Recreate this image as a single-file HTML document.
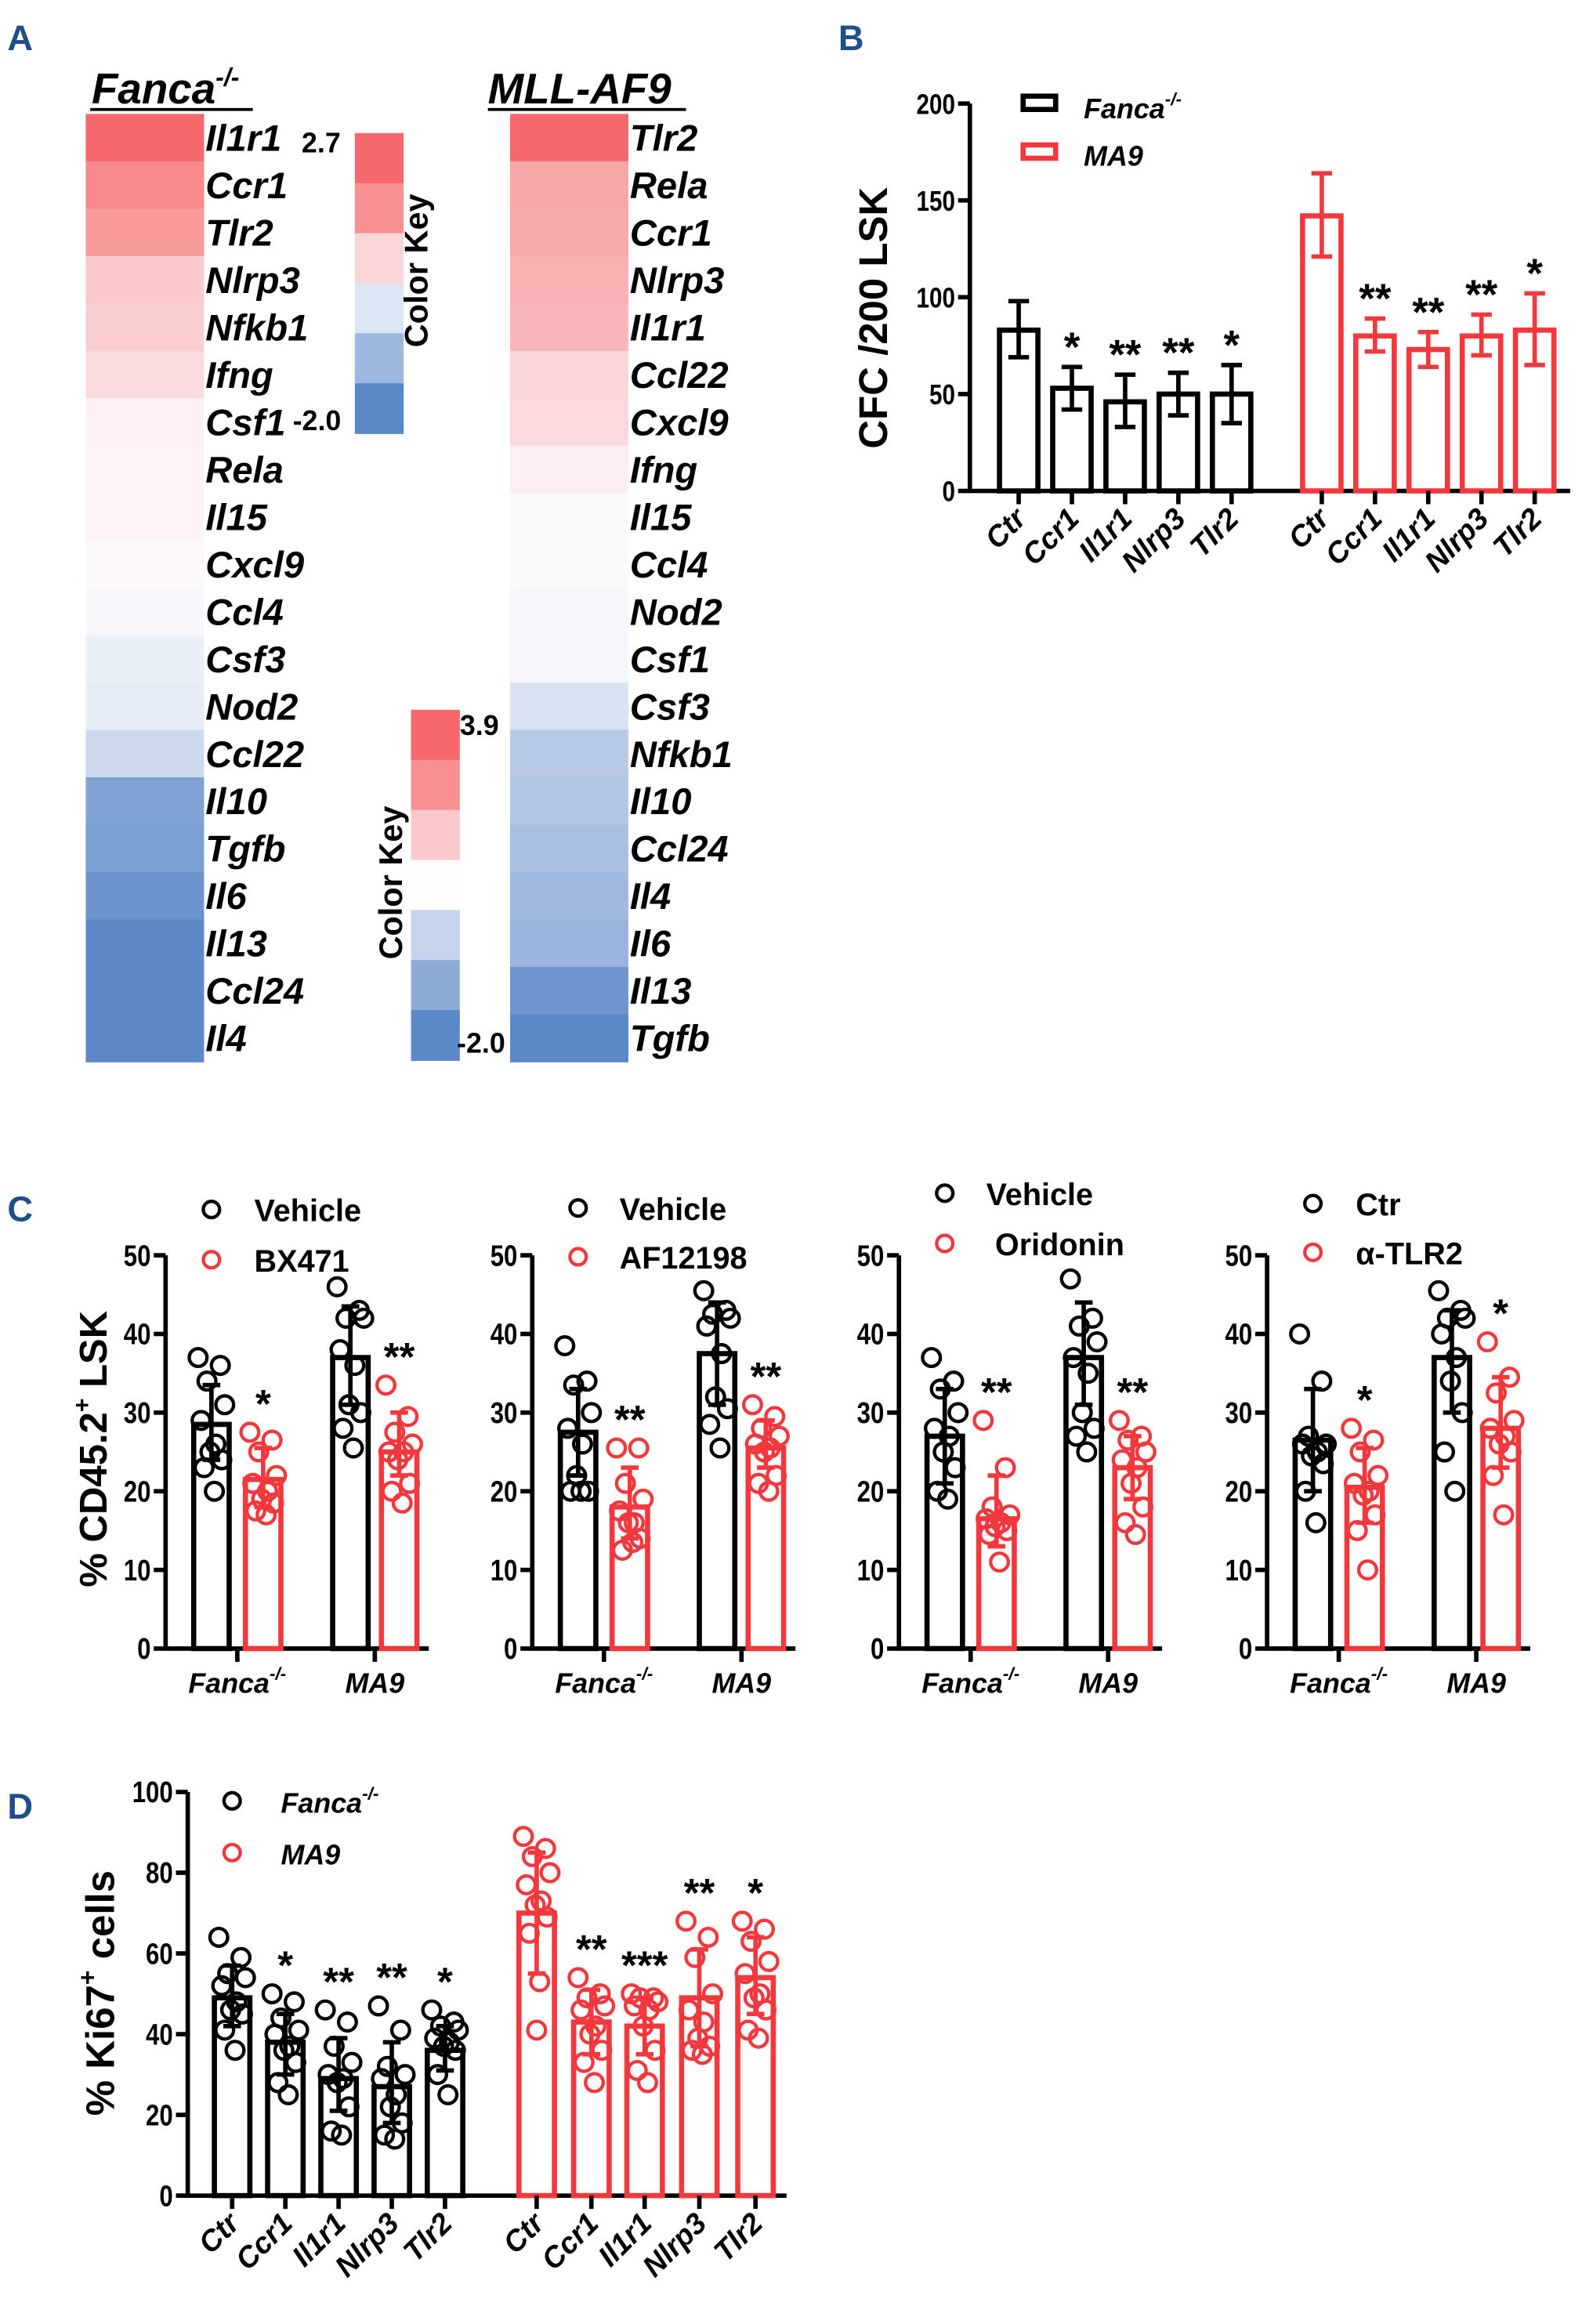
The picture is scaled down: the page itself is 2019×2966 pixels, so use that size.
<!DOCTYPE html>
<html><head><meta charset="utf-8"><style>
html,body{margin:0;padding:0;background:#fff}
svg{display:block}
text{font-family:"Liberation Sans",sans-serif;font-weight:bold}
</style></head><body>
<svg id="fig" width="2019" height="2966" viewBox="0 0 1070 1571.8" xmlns="http://www.w3.org/2000/svg">
<g id="pa"></g>
<g id="pb"></g>
<g id="pc"></g>
<g id="pd"></g>
</svg>
<script>
// ---------- Panel A data ----------
const fancaGenes = ["Il1r1","Ccr1","Tlr2","Nlrp3","Nfkb1","Ifng","Csf1","Rela","Il15","Cxcl9","Ccl4","Csf3","Nod2","Ccl22","Il10","Tgfb","Il6","Il13","Ccl24","Il4"];
const fancaColors = ["#f6686b","#f78a8c","#f8999a","#fbc9cc","#fbcfd2","#fadcdf","#fdf0f2","#fdf2f4","#fdf3f5","#fcf8fb","#f8f8fc","#eaf0f8","#e6edf7","#cdd9ec","#7fa3d3","#7a9fd1","#6c94cc","#5d89c6","#5d89c6","#5d89c6"];
const mllGenes = ["Tlr2","Rela","Ccr1","Nlrp3","Il1r1","Ccl22","Cxcl9","Ifng","Il15","Ccl4","Nod2","Csf1","Csf3","Nfkb1","Il10","Ccl24","Il4","Il6","Il13","Tgfb"];
const mllColors = ["#f6686b","#f8a7a9","#f8a9ab","#f9b2b4","#f9b6b8","#fbd6d9","#fbd9dc","#fdeff1","#fafafc","#f9f9fc","#f6f7fb","#f5f6fb","#d8e2f1","#b7c9e6","#b3c6e5","#a8bfe1","#a1b9df","#9ab4dd","#6e95cd","#5b88c6"];
const key1Colors = ["#f6686b","#f88f91","#fbd4d8","#dce5f3","#9db8de","#5b88c6"];
const key2Colors = ["#f6686b","#f88f91","#fbc9cc","#fdfdfe","#c5d4ec","#8eabd8","#5b88c6"];

// ---------- Panel B data ----------
const bCats = ["Ctr","Ccr1","Il1r1","Nlrp3","Tlr2"];
const bFanca = [83,53,46,50,50];
const bFancaHi = [98,64,60,61,65];
const bFancaLo = [69,42,33,39,35];
const bFancaStars = ["","*","**","**","*"];
const bMA9 = [142,80,73,80,83];
const bMA9Hi = [164,89,82,91,102];
const bMA9Lo = [121,72,64,70,65];
const bMA9Stars = ["","**","**","**","*"];
const bTicks = [0,50,100,150,200];

// ---------- Panel C data ----------
const cTreat = ["BX471","AF12198","Oridonin","α-TLR2"];
const cCtrlName = ["Vehicle","Vehicle","Vehicle","Ctr"];
const cTicks = [0,10,20,30,40,50];
const cMeans = [[28.5,21.5,37,25],[27.5,18,37.5,25.5],[27,16.5,37,23],[26.5,20.5,37,28]];
const cHi = [[33.5,25.5,43.5,30],[33,23,44,29],[33,22,44,27],[33,25.5,43,34.5]];
const cLo = [[24,18,31,22],[22,14,31,23],[21,13,31,19],[20,16,30,23]];
const cStars = [["","*","","**"],["","**","","**"],["","**","","**"],["","*","","*"]];
const cPts = [
 [[37,36,34,31,29,26,25,24,23,20],[27.5,26.5,25,22,21,20,19,18.5,17.5,17],[46,43,42,42,38,36,31,30,28,25.5],[33.5,29.5,27.5,26,25,25,24,21,20,18.5]],
 [[38.5,34,33.5,30,28,26,22,20,20,20],[25.5,25.5,21,19,17.5,16,16,14,12.5,13.5],[45.5,43,42.5,42,41,37.5,32,30.5,28.5,25.5],[31,29.5,28,27,26,25.5,25,22,21,20]],
 [[37,34,33,30,28,27,25,23,20,19],[29,23,18,17,16.5,16,15.5,15,14.5,11],[47,42,41,39,37,35,30,28,27,25],[29,27,26.5,25,24,23,21,18,16,14.5]],
 [[40,34,27,26,26,25,24.5,23.5,20,16],[28,26.5,25,22,21,20,19.5,17,15,10],[45.5,43,42,42,40,37,34,30,25,20],[39,34.5,32.5,29,28,27,26,25,22,17]]
];

// ---------- Panel D data ----------
const dCats = ["Ctr","Ccr1","Il1r1","Nlrp3","Tlr2"];
const dTicks = [0,20,40,60,80,100];
const dFanca = [49,38,29,27,36];
const dFancaHi = [57,45,39,38,42];
const dFancaLo = [42,30,21,18,31];
const dFancaStars = ["","*","**","**","*"];
const dMA9 = [70,43,42,49,54];
const dMA9Hi = [85,51,49,61,64];
const dMA9Lo = [55,35,35,37,45];
const dMA9Stars = ["","**","***","**","*"];
const dFancaPts = [[64,59,55,54,52,48,46,45,41,36],[50,48,44,41,40,37,36,33,28,25],[46,43,37,33,30,29,28,22,16,15],[47,41,32,30,29,25,22,18,15,14],[46,43,42,41,39,38,37,36,30,25]];
const dMA9Pts = [[89,86,84,80,77,73,72,69,65,53,41],[54,50,49,47,46,42,40,36,33,28],[50,49,49,48,47,46,42,36,31,28],[68,64,59,50,46,43,39,37,36,35],[68,66,63,58,55,50,49,46,41,39]];

const NS="http://www.w3.org/2000/svg";
const BLK="#000", RED="#f2383c";
function mk(parent, tag, attrs, txt){
  const e=document.createElementNS(NS,tag);
  for(const k in attrs) e.setAttribute(k,attrs[k]);
  if(txt!==undefined) e.textContent=txt;
  parent.appendChild(e); return e;
}
const jit=[-9,6,-3,9,-7,3,-1,7,-5,2,0];

// ================= Panel A =================
(function(){
  const g=document.getElementById('pa');
  let t=mk(g,'text',{x:5,y:34,fill:'#1f4e8c','font-size':24},'A');
   
  function heat(x0,title,tx,genes,cols,name){
    const top=77,h=(718-77)/genes.length;
    const hg=mk(g,'g',{});
     
    const tt=mk(hg,'text',{x:tx,y:70,'font-size':29,'font-style':'italic'},title);
     
    genes.forEach((gn,i)=>{
      const r=mk(hg,'rect',{x:x0,y:top+i*h,width:80,height:h+0.5,fill:cols[i]});
       
      const l=mk(hg,'text',{x:x0+81,y:top+i*h+h/2+9,'font-size':25,'font-style':'italic'},gn);
       
    });
    return tt;
  }
  const t1=heat(58,'','62',fancaGenes,fancaColors,'fanca-heatmap');
  t1.innerHTML='Fanca<tspan font-size="17" dy="-12">-/-</tspan>';
  mk(g,'line',{x1:61,y1:74,x2:171,y2:74,stroke:'#000','stroke-width':2});
  heat(345,'MLL-AF9',330,mllGenes,mllColors,'mll-af9-heatmap');
  mk(g,'line',{x1:330,y1:74,x2:464,y2:74,stroke:'#000','stroke-width':2});
  function key(x,y0,y1,cols,hiT,loT,hx,hy,lx,ly,ckx,cky,name){
    const kg=mk(g,'g',{});
     
    const h=(y1-y0)/cols.length;
    cols.forEach((c,i)=>{const r=mk(kg,'rect',{x:x,y:y0+i*h,width:33,height:h+0.5,fill:c});
       });
    let a=mk(kg,'text',{x:hx,y:hy,'font-size':19},hiT);  
    a=mk(kg,'text',{x:lx,y:ly,'font-size':19},loT);  
    a=mk(kg,'text',{x:0,y:0,'font-size':22,'text-anchor':'middle',transform:`translate(${ckx},${cky}) rotate(-90)`},'Color Key');
     
  }
  key(240,90,293,key1Colors,'2.7','-2.0',204,103,198,291,289,183,'color-key-fanca');
  key(278,480,717,key2Colors,'3.9','-2.0',311,497,309,712,272,597,'color-key-mll');
})();

function tick(g,x,y,v,fs){
  const s=String(v);
  const l=mk(g,'text',{x:x,y:y,'font-size':fs,'text-anchor':'end',textLength:s.length*fs*0.46,lengthAdjust:'spacingAndGlyphs'},s);
   
  return l;
}

// ================= Panel B =================
(function(){
  const g=document.getElementById('pb');
  let t=mk(g,'text',{x:567,y:34,fill:'#1f4e8c','font-size':24},'B');
   
  const ax=656,y0=332,y1=70,vmax=200;
  const Y=v=>y0-(v/vmax)*(y0-y1);
  mk(g,'line',{x1:ax,y1:y1,x2:ax,y2:y0+1,stroke:BLK,'stroke-width':3});
  mk(g,'line',{x1:ax-1,y1:y0,x2:1062,y2:y0,stroke:BLK,'stroke-width':3});
  bTicks.forEach(v=>{
    mk(g,'line',{x1:ax-8,y1:Y(v),x2:ax,y2:Y(v),stroke:BLK,'stroke-width':3});
    tick(g,ax-10,Y(v)+7,v,19);
  });
  const yt=mk(g,'text',{x:0,y:0,'font-size':27,'text-anchor':'middle',transform:'translate(600,215) rotate(-90)'},'CFC /200 LSK');
   
  const X0=[689,725,761,797,833], X1=[894,930,966,1002,1038];
  function series(xs,vals,hi,lo,stars,col,nm){
    xs.forEach((x,i)=>{
      const b=mk(g,'rect',{x:x-13,y:Y(vals[i]),width:26,height:y0-Y(vals[i]),fill:'none',stroke:col,'stroke-width':3.5});
       
      mk(g,'line',{x1:x,y1:Y(hi[i]),x2:x,y2:Y(lo[i]),stroke:col,'stroke-width':3});
      mk(g,'line',{x1:x-7,y1:Y(hi[i]),x2:x+7,y2:Y(hi[i]),stroke:col,'stroke-width':3});
      mk(g,'line',{x1:x-7,y1:Y(lo[i]),x2:x+7,y2:Y(lo[i]),stroke:col,'stroke-width':3});
      mk(g,'line',{x1:x,y1:y0,x2:x,y2:y0+9,stroke:BLK,'stroke-width':3});
      if(stars[i]){const s=mk(g,'text',{x:x,y:Y(hi[i])-4,'font-size':28,'text-anchor':'middle'},stars[i]);
         }
      const l=mk(g,'text',{x:0,y:0,'font-size':20,'font-style':'italic','text-anchor':'end',transform:`translate(${x+6},${y0+20}) rotate(-45)`},bCats[i]);
       
    });
  }
  series(X0,bFanca,bFancaHi,bFancaLo,bFancaStars,BLK,'fanca');
  series(X1,bMA9,bMA9Hi,bMA9Lo,bMA9Stars,RED,'ma9');
  let r=mk(g,'rect',{x:692,y:65,width:22,height:9,fill:'none',stroke:BLK,'stroke-width':3.5}); 
  let l=mk(g,'text',{x:733,y:80,'font-size':19,'font-style':'italic'},''); l.innerHTML='Fanca<tspan font-size="12" dy="-9">-/-</tspan>';
   
  r=mk(g,'rect',{x:692,y:98,width:22,height:9,fill:'none',stroke:RED,'stroke-width':3.5}); 
  l=mk(g,'text',{x:733,y:112,'font-size':19,'font-style':'italic'},'MA9');
   
})();

// ================= Panel C =================
(function(){
  const g=document.getElementById('pc');
  let t=mk(g,'text',{x:5,y:826,fill:'#1f4e8c','font-size':24},'C');
   
  const yt=mk(g,'text',{x:0,y:0,'font-size':26,'text-anchor':'middle',transform:'translate(72,980) rotate(-90)'},'');
  yt.innerHTML='% CD45.2<tspan font-size="16" dy="-11">+</tspan><tspan dy="11"> LSK</tspan>';
   
  const axs=[112,360,608,857], legY=[[818,852],[817,850],[807,841],[814,847]], legTx=[172,419,667,917], legTx2=[172,419,673,917];
  const y0=1115,y1=849, Y=v=>y0-(v/50)*(y0-y1);
  for(let p=0;p<4;p++){
    const ax=axs[p];
    const sg=mk(g,'g',{});  
    mk(sg,'line',{x1:ax,y1:y1,x2:ax,y2:y0+1,stroke:BLK,'stroke-width':3});
    mk(sg,'line',{x1:ax-1,y1:y0,x2:ax+178,y2:y0,stroke:BLK,'stroke-width':3});
    cTicks.forEach(v=>{
      mk(sg,'line',{x1:ax-8,y1:Y(v),x2:ax,y2:Y(v),stroke:BLK,'stroke-width':3});
      tick(sg,ax-10,Y(v)+7,v,20);
    });
    const xs=[ax+31,ax+66,ax+125,ax+158];
    [0,1].forEach(k=>{
      const gx=(xs[2*k]+xs[2*k+1])/2;
      mk(sg,'line',{x1:gx,y1:y0,x2:gx,y2:y0+9,stroke:BLK,'stroke-width':3});
      const l=mk(sg,'text',{x:gx,y:y0+30,'font-size':19,'font-style':'italic','text-anchor':'middle'},'');
      l.innerHTML=k===0?'Fanca<tspan font-size="12" dy="-9">-/-</tspan>':'MA9';
       
    });
    for(let j=0;j<4;j++){
      const col=j%2?RED:BLK, x=xs[j], m=cMeans[p][j];
      const b=mk(sg,'rect',{x:x-12,y:Y(m),width:24,height:y0-Y(m),fill:'none',stroke:col,'stroke-width':3.5});
       
      cPts[p][j].forEach((v,i)=>{
        const c=mk(sg,'circle',{cx:x+jit[i],cy:Y(v),r:6,fill:'none',stroke:col,'stroke-width':2.3});
         
      });
      mk(sg,'line',{x1:x,y1:Y(cHi[p][j]),x2:x,y2:Y(cLo[p][j]),stroke:col,'stroke-width':3});
      mk(sg,'line',{x1:x-6,y1:Y(cHi[p][j]),x2:x+6,y2:Y(cHi[p][j]),stroke:col,'stroke-width':3});
      mk(sg,'line',{x1:x-6,y1:Y(cLo[p][j]),x2:x+6,y2:Y(cLo[p][j]),stroke:col,'stroke-width':3});
      if(cStars[p][j]){
        const top=Math.max(cHi[p][j],...cPts[p][j]);
        const s=mk(sg,'text',{x:x,y:Y(top)-10,'font-size':27,'text-anchor':'middle'},cStars[p][j]);
         
      }
    }
    let c=mk(sg,'circle',{cx:ax+31,cy:legY[p][0],r:5.5,fill:'none',stroke:BLK,'stroke-width':2.3}); 
    let l=mk(sg,'text',{x:legTx[p],y:legY[p][0]+8,'font-size':21},cCtrlName[p]);  
    c=mk(sg,'circle',{cx:ax+31,cy:legY[p][1],r:5.5,fill:'none',stroke:RED,'stroke-width':2.3}); 
    l=mk(sg,'text',{x:legTx2[p],y:legY[p][1]+8,'font-size':21},cTreat[p]);  
  }
})();

// ================= Panel D =================
(function(){
  const g=document.getElementById('pd');
  let t=mk(g,'text',{x:5,y:1230,fill:'#1f4e8c','font-size':24},'D');
   
  const ax=127,y0=1485,y1=1212,Y=v=>y0-(v/100)*(y0-y1);
  mk(g,'line',{x1:ax,y1:y1,x2:ax,y2:y0+1,stroke:BLK,'stroke-width':3});
  mk(g,'line',{x1:ax-1,y1:y0,x2:532,y2:y0,stroke:BLK,'stroke-width':3});
  dTicks.forEach(v=>{
    mk(g,'line',{x1:ax-8,y1:Y(v),x2:ax,y2:Y(v),stroke:BLK,'stroke-width':3});
    tick(g,ax-10,Y(v)+7,v,20);
  });
  const yt=mk(g,'text',{x:0,y:0,'font-size':27,'text-anchor':'middle',transform:'translate(77,1348) rotate(-90)'},'');
  yt.innerHTML='% Ki67<tspan font-size="17" dy="-12">+</tspan><tspan dy="12"> cells</tspan>';
   
  const X0=[157,193,229,265,301], X1=[363,400,436,473,511];
  function series(xs,vals,hi,lo,pts,stars,col,nm){
    xs.forEach((x,i)=>{
      const b=mk(g,'rect',{x:x-12,y:Y(vals[i]),width:24,height:y0-Y(vals[i]),fill:'none',stroke:col,'stroke-width':3.5});
       
      pts[i].forEach((v,k)=>{
        const c=mk(g,'circle',{cx:x+jit[k],cy:Y(v),r:6,fill:'none',stroke:col,'stroke-width':2.3});
         
      });
      mk(g,'line',{x1:x,y1:Y(hi[i]),x2:x,y2:Y(lo[i]),stroke:col,'stroke-width':3});
      mk(g,'line',{x1:x-6,y1:Y(hi[i]),x2:x+6,y2:Y(hi[i]),stroke:col,'stroke-width':3});
      mk(g,'line',{x1:x-6,y1:Y(lo[i]),x2:x+6,y2:Y(lo[i]),stroke:col,'stroke-width':3});
      mk(g,'line',{x1:x,y1:y0,x2:x,y2:y0+9,stroke:BLK,'stroke-width':3});
      if(stars[i]){const top=Math.max(hi[i],...pts[i]);
        const s=mk(g,'text',{x:x,y:Y(top)-10,'font-size':27,'text-anchor':'middle'},stars[i]);
         }
      const l=mk(g,'text',{x:0,y:0,'font-size':20,'font-style':'italic','text-anchor':'end',transform:`translate(${x+6},${y0+20}) rotate(-45)`},dCats[i]);
       
    });
  }
  series(X0,dFanca,dFancaHi,dFancaLo,dFancaPts,dFancaStars,BLK,'fanca');
  series(X1,dMA9,dMA9Hi,dMA9Lo,dMA9Pts,dMA9Stars,RED,'ma9');
  let c=mk(g,'circle',{cx:157,cy:1218,r:5.5,fill:'none',stroke:BLK,'stroke-width':2.3}); 
  let l=mk(g,'text',{x:190,y:1226,'font-size':19,'font-style':'italic'},''); l.innerHTML='Fanca<tspan font-size="12" dy="-9">-/-</tspan>';
   
  c=mk(g,'circle',{cx:157,cy:1253,r:5.5,fill:'none',stroke:RED,'stroke-width':2.3}); 
  l=mk(g,'text',{x:190,y:1261,'font-size':19,'font-style':'italic'},'MA9');
   
})();
</script>
</body></html>
